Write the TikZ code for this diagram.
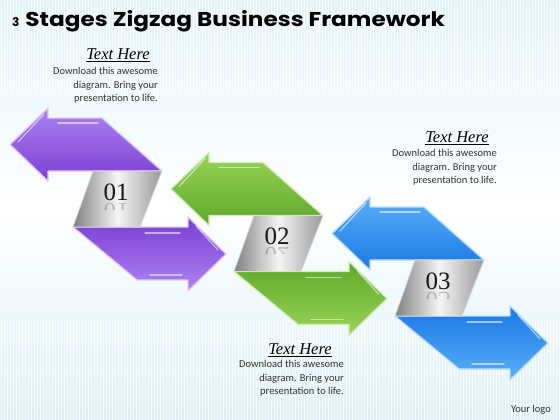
\documentclass[tikz,border=0pt]{standalone}
\usepackage{fontspec}
\setmainfont{Carlito}
\newfontfamily\titlefont{Poppins}
\newfontfamily\headfont{Liberation Serif}
\newfontfamily\numfont{Liberation Serif}
\definecolor{PL}{HTML}{AE82F0}
\definecolor{PD}{HTML}{7A3ED4}
\definecolor{GL}{HTML}{98D458}
\definecolor{GD}{HTML}{5EA82A}
\definecolor{BL}{HTML}{5AAEF7}
\definecolor{BD}{HTML}{1A78E4}
\definecolor{bgtop}{HTML}{E4F3F9}
\definecolor{bgbot}{HTML}{DDF0F7}
\definecolor{txt}{HTML}{333333}
\tikzset{
  ribbon/.style={draw=#1L!40!white, line width=1.3pt, line join=round},
  gloss/.style={white, line width=1.2pt, opacity=.55, line cap=round},
  silver/.style={draw=white!85!black, line width=0.8pt, left color=black!50, right color=black!40, middle color=black!4},
  headtxt/.style={font=\headfont\itshape\fontsize{16.5}{18}\selectfont, text=black, inner sep=0pt},
  bodytxt/.style={font=\fontsize{10.5}{13.6}\selectfont, text=txt, align=right, inner sep=0pt},
  numtxt/.style={font=\numfont\fontsize{25}{25}\selectfont, text=black!90, inner sep=0pt},
}
\begin{document}
\begin{tikzpicture}[x=1pt,y=-1pt]
\useasboundingbox (0,0) rectangle (560,420);
% background
\fill[top color=bgtop, bottom color=bgbot, middle color=white] (0,0) rectangle (560,420);
\foreach \x in {1.5,4.5,...,560} {
  \draw[white, line width=0.9pt, opacity=.7] (\x,0) -- (\x,95);
  \draw[white, line width=0.9pt, opacity=.7] (\x,320) -- (\x,420);
}
% title
\node[anchor=base west, inner sep=0pt, text=black] (title) at (12,27)
  {\titlefont\bfseries{\fontsize{12}{12}\selectfont 3}\hspace{6pt}\scalebox{1.16}[1]{\fontsize{20}{20}\selectfont Stages Zigzag Business Framework}};
% stages
\foreach \dx/\dy/\c/\n in {0/0/P/01, 161/44.5/G/02, 322/89/B/03} {
\begin{scope}[shift={(\dx,\dy)}]
  % upper arrow (pointing left)
  \path[ribbon=\c, top color=\c L, bottom color=\c D]
    (10,144.5) -- (48,108) -- (48,118) -- (102,118) -- (162,171) -- (93,171)
    -- (48,171) -- (48,181) -- cycle;
  \draw[gloss] (58,123) -- (98,123);
  \draw[gloss] (18,142) -- (44,114);
  % lower arrow (pointing right)
  \path[ribbon=\c, top color=\c D, bottom color=\c L]
    (73,227) -- (188,227) -- (188,217) -- (226,254) -- (188,291)
    -- (188,280) -- (137,280) -- cycle;
  \draw[gloss] (145,233) -- (180,233);
  \draw[gloss] (150,275) -- (182,275);
  \draw[gloss] (196,226) -- (218,250);
  % silver band
  \path[silver] (93,171) -- (162,171) -- (140,227) -- (73,227) -- cycle;
  \node[numtxt] (num\n) at (116,192) {\n};
  \begin{scope}
    \clip (60,202.5) rectangle (170,209);
    \node[numtxt, opacity=.22] (ref\n) at (116,211.5) {\scalebox{1}[-1]{\n}};
  \end{scope}
\end{scope}
}
% text blocks
\node[headtxt] (h1) at (118,55) {\underline{Text Here}};
\node[bodytxt, anchor=north east] (b1) at (158,67) {Download this awesome\\diagram. Bring your\\presentation to life.};
\node[headtxt] (h2) at (457,138) {\underline{Text Here}};
\node[bodytxt, anchor=north east] (b2) at (497,149) {Download this awesome\\diagram. Bring your\\presentation to life.};
\node[headtxt] (h3) at (300,350) {\underline{Text Here}};
\node[bodytxt, anchor=north east] (b3) at (344,360) {Download this awesome\\diagram. Bring your\\presentation to life.};
\node[anchor=base east, inner sep=0pt, text=txt, font=\fontsize{10.5}{12}\selectfont] (logo) at (551,412) {Your logo};
\end{tikzpicture}
\end{document}
